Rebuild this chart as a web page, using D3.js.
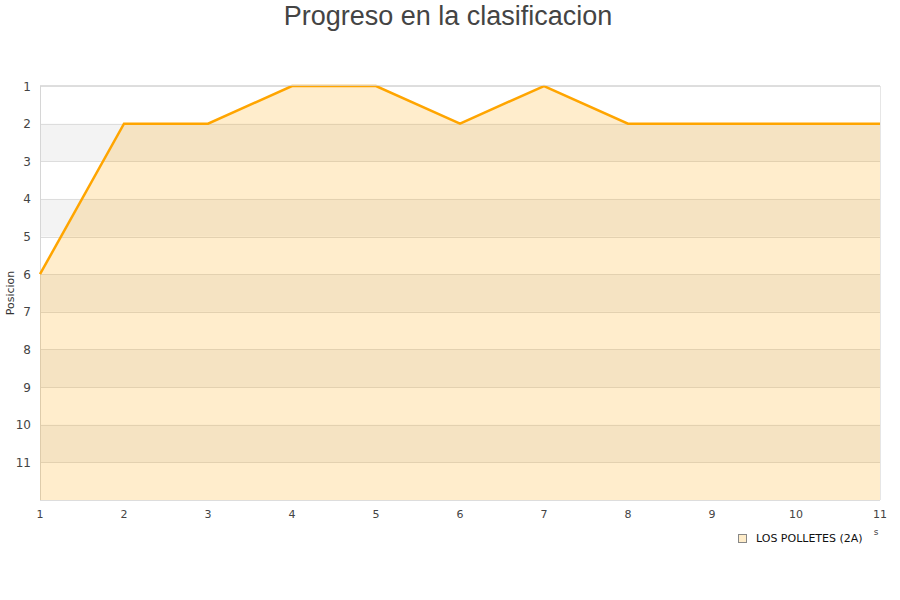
<!DOCTYPE html>
<html><head><meta charset="utf-8">
<script src="https://cdn.jsdelivr.net/npm/d3@7/dist/d3.min.js"></script>
<style>body{margin:0;background:#fff;}svg{display:block;font-family:"DejaVu Sans",sans-serif;}</style>
</head><body><svg id="c" width="900" height="600"></svg>
<script>
const jornadas = [1,2,3,4,5,6,7,8,9,10,11];
const posiciones = [6,2,2,1,1,2,1,2,2,2,2];
const yTicks = [1,2,3,4,5,6,7,8,9,10,11];
const seriesName = "LOS POLLETES (2A)";
const title = "Progreso en la clasificacion";
const yLabel = "Posicion";

const svg = d3.select("#c");
const L=40,R=880,T=86,B=500;
const x = d3.scaleLinear().domain([1,11]).range([L,R]);
const y = d3.scaleLinear().domain([1,12]).range([T,B]);

// bands
const bands = yTicks.filter(v=>v%2===0);
svg.append("g").selectAll("rect").data(bands).join("rect")
  .attr("x",L).attr("width",R-L).attr("y",d=>y(d)).attr("height",d=>y(d+1)-y(d))
  .attr("fill","#f3f3f3");
// grid
svg.append("g").selectAll("line").data(yTicks.concat([12])).join("line")
  .attr("x1",L).attr("x2",R).attr("y1",d=>Math.round(y(d))+0.5).attr("y2",d=>Math.round(y(d))+0.5)
  .attr("stroke","#dddddd").attr("stroke-width",1);
// border
svg.append("line").attr("x1",L+0.5).attr("x2",L+0.5).attr("y1",T).attr("y2",B).attr("stroke","#d6d6d6");
svg.append("line").attr("x1",R+0.5).attr("x2",R+0.5).attr("y1",T).attr("y2",B).attr("stroke","#e6e6e6");

const pts = jornadas.map((j,i)=>[j,posiciones[i]]);
const area = d3.area().x(d=>x(d[0])).y0(B).y1(d=>y(d[1]));
svg.append("path").attr("d",area(pts)).attr("fill","#ffa500").attr("fill-opacity",0.2);
const line = d3.line().x(d=>x(d[0])).y(d=>y(d[1]));
svg.append("path").attr("d",line(pts)).attr("fill","none").attr("stroke","#ffa500").attr("stroke-width",2.5).attr("stroke-linejoin","miter");
// top border over line at position 1
svg.append("line").attr("x1",L).attr("x2",R).attr("y1",T-0.5).attr("y2",T-0.5).attr("stroke","#d6d6d6").attr("stroke-width",1).attr("opacity",0.8);

// y labels
svg.append("g").selectAll("text").data(yTicks).join("text")
  .attr("x",31).attr("y",d=>y(d)+4.5).attr("text-anchor","end")
  .attr("font-size",12).attr("fill","#444").text(d=>d);
// x labels
svg.append("g").selectAll("text").data(jornadas).join("text")
  .attr("x",d=>x(d)).attr("y",518).attr("text-anchor","middle")
  .attr("font-size",11).attr("fill","#444").text(d=>d);

svg.append("text").attr("x",448).attr("y",25).attr("text-anchor","middle")
  .attr("font-family","'Liberation Sans',Arial,sans-serif")
  .attr("font-size",27).attr("fill","#444").text(title);
svg.append("text").attr("transform","translate(14,293) rotate(-90)").attr("text-anchor","middle")
  .attr("font-size",11).attr("fill","#333").text(yLabel);

// legend
svg.append("rect").attr("x",738.5).attr("y",534.5).attr("width",8).attr("height",8)
  .attr("fill","#feecc9").attr("stroke","#888");
svg.append("text").attr("x",756).attr("y",542).attr("font-size",11).attr("fill","#111").text(seriesName);
svg.append("text").attr("x",876).attr("y",535).attr("text-anchor","middle").attr("font-size",9).attr("fill","#444").text("s");
</script></body></html>
